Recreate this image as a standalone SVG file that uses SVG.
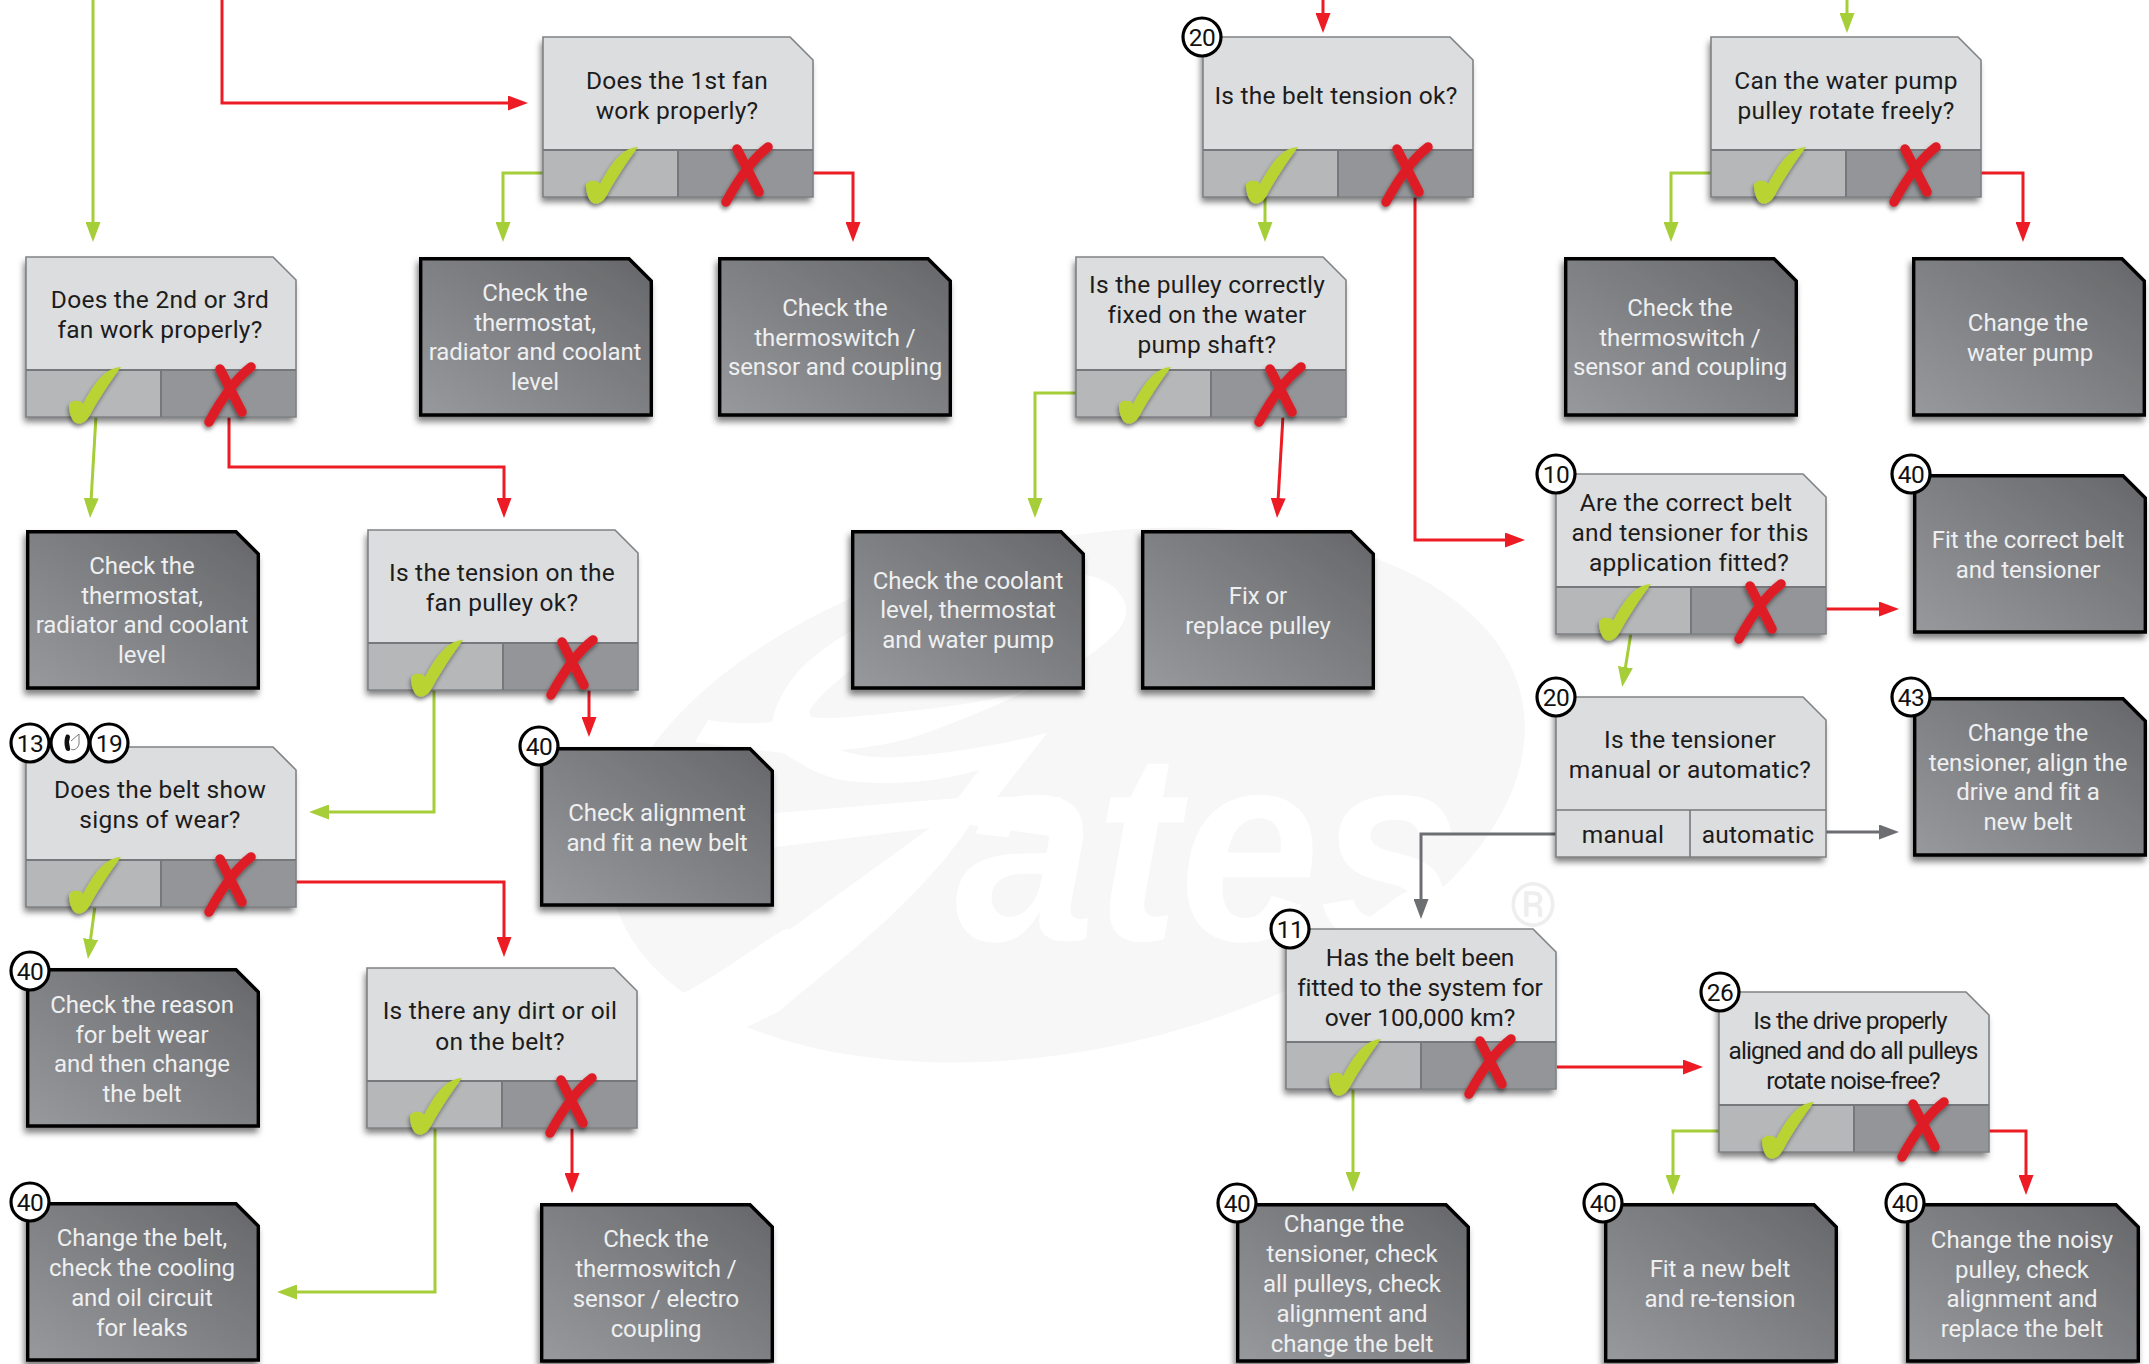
<svg xmlns="http://www.w3.org/2000/svg" width="2149" height="1364" viewBox="0 0 2149 1364">
<style>
text{font-family:"Roboto","Liberation Sans",sans-serif;font-size:24.5px;text-anchor:middle;letter-spacing:.25px}
.k{fill:#1c1c1c}
.w{fill:#eeeff0;font-size:24px;letter-spacing:-.08px}
.b{font-size:24.5px;fill:#111;letter-spacing:-.4px}
.bc{fill:#fff;stroke:#000;stroke-width:3.2}
.c{fill:none;stroke-width:3}
.g{stroke:#a6ce39}
.r{stroke:#ed1c24}
.y{stroke:#6d6e71}
</style>
<defs>
<filter id="sh" x="-10%" y="-10%" width="120%" height="125%"><feDropShadow dx="-2" dy="5" stdDeviation="3" flood-color="#000" flood-opacity=".5"/></filter>
<filter id="sm" x="-30%" y="-30%" width="160%" height="160%"><feDropShadow dx="-1" dy="3" stdDeviation="2" flood-color="#000" flood-opacity=".45"/></filter>
<linearGradient id="dk" x1="0" y1="1" x2="1" y2="0"><stop offset="0" stop-color="#98999c"/><stop offset="1" stop-color="#66676a"/></linearGradient>
<marker id="mg" markerUnits="userSpaceOnUse" markerWidth="20" markerHeight="15" refX="12" refY="7.5" orient="auto"><path d="M0,0L20,7.5L0,15z" fill="#a6ce39"/></marker>
<marker id="mr" markerUnits="userSpaceOnUse" markerWidth="20" markerHeight="15" refX="12" refY="7.5" orient="auto"><path d="M0,0L20,7.5L0,15z" fill="#ed1c24"/></marker>
<marker id="my" markerUnits="userSpaceOnUse" markerWidth="20" markerHeight="15" refX="12" refY="7.5" orient="auto"><path d="M0,0L20,7.5L0,15z" fill="#6d6e71"/></marker>
<path id="shape" d="M0,0H247L270,23V160H0Z"/>
<g id="ck" filter="url(#sm)"><path transform="translate(0,113)" d="M95,-3C82,-2 72,6 57,34C56,31 52,30 47,31L43,34C43,42 45,50 50,53C55,55 60,52 64,45C72,30 84,12 95,-3Z" fill="#b9d433"/></g>
<g id="xx" filter="url(#sm)"><path transform="translate(0,113)" d="M194,-1L216,42M225,-3C208,10 195,30 183,52" fill="none" stroke="#de1f26" stroke-width="9.5" stroke-linecap="round"/></g>
<g id="q">
<use href="#shape" fill="#dcddde" filter="url(#sh)"/>
<rect x="0" y="113" width="135" height="47" fill="#b6b7b9"/>
<rect x="135" y="113" width="135" height="47" fill="#939598"/>
<use href="#shape" fill="none" stroke="#808285" stroke-width="1.6"/>
<path d="M0,113H270M135,113V160" fill="none" stroke="#77787b" stroke-width="2"/>
<use href="#ck"/><use href="#xx"/>
</g>
<g id="qt">
<use href="#shape" fill="#dcddde" filter="url(#sh)"/>
<use href="#shape" fill="none" stroke="#808285" stroke-width="1.6"/>
<path d="M0,113H270M134,113V160" fill="none" stroke="#77787b" stroke-width="1.6"/>
</g>
<g id="a">
<path d="M1.7,1.7H210L232.3,24V158H1.7Z" fill="url(#dk)" stroke="#000" stroke-width="3.4" filter="url(#sh)"/>
</g>
</defs>

<g id="watermark">
<ellipse cx="1067" cy="795" rx="465" ry="255" transform="rotate(-12 1067 795)" fill="#f7f7f7"/>
<path fill="#fff" d="M695,742L708,720C730,724 755,724 772,722C778,695 795,670 819,653C860,620 960,570 1086,575C1115,580 1128,600 1126,613C1124,628 1110,640 1090,655C1060,678 1000,705 926,733C900,742 870,748 840,750C860,757 880,758 900,757C940,755 1000,745 1047,733L997,797L1060,797L1080,840L970,825C920,900 840,960 778,1012L720,1040L680,995C730,970 790,920 789,930L930,828L776,847L700,850L700,810L776,813L958,798L979,770C950,778 920,783 890,783C860,783 840,782 819,773C805,767 795,760 783,753Z"/>
<path fill="#f7f7f7" d="M811,717C808,712 810,708 815,703C830,685 860,660 900,640L1060,600L1085,640L1018,693C980,703 940,708 900,712C870,715 830,720 811,717Z"/>
<path fill="#fff" d="M1352,930L1400,895L1432,880L1480,907L1450,935Z"/>
<text x="955" y="940" textLength="505" lengthAdjust="spacingAndGlyphs" style="font-family:'Liberation Sans',sans-serif;font-style:italic;font-weight:bold;fill:#fff;font-size:270px;text-anchor:start;letter-spacing:0">ates</text>
<text x="1533" y="926" style="font-size:62px;fill:#eeeeee;letter-spacing:0">®</text>
</g>

<g id="connectors">
<path class="c g" marker-end="url(#mg)" d="M93,0V234"/>
<path class="c r" marker-end="url(#mr)" d="M222,0V103H520"/>
<path class="c g" marker-end="url(#mg)" d="M543,173H503V234"/>
<path class="c r" marker-end="url(#mr)" d="M813,173H853V234"/>
<path class="c g" marker-end="url(#mg)" d="M96,416L90.5,510"/>
<path class="c r" marker-end="url(#mr)" d="M229,416V467H504V510"/>
<path class="c g" marker-end="url(#mg)" d="M434,689V812H317"/>
<path class="c r" marker-end="url(#mr)" d="M589,689V729"/>
<path class="c g" marker-end="url(#mg)" d="M95,906L89,951"/>
<path class="c r" marker-end="url(#mr)" d="M296,882H504V949"/>
<path class="c g" marker-end="url(#mg)" d="M435,1127V1292H285"/>
<path class="c r" marker-end="url(#mr)" d="M572,1127V1185"/>
<path class="c r" marker-end="url(#mr)" d="M1323,0V25"/>
<path class="c g" marker-end="url(#mg)" d="M1847,0V25"/>
<path class="c g" marker-end="url(#mg)" d="M1265,197V234"/>
<path class="c r" marker-end="url(#mr)" d="M1415,197V540H1517"/>
<path class="c g" marker-end="url(#mg)" d="M1711,173H1671V234"/>
<path class="c r" marker-end="url(#mr)" d="M1981,173H2023V234"/>
<path class="c g" marker-end="url(#mg)" d="M1076,393H1035V510"/>
<path class="c r" marker-end="url(#mr)" d="M1283,416L1277.500,510"/>
<path class="c g" marker-end="url(#mg)" d="M1631,633L1623.500,679"/>
<path class="c r" marker-end="url(#mr)" d="M1826,609H1891"/>
<path class="c y" marker-end="url(#my)" d="M1826,832H1891"/>
<path class="c y" marker-end="url(#my)" d="M1556,834H1421V911"/>
<path class="c g" marker-end="url(#mg)" d="M1353,1089V1184"/>
<path class="c r" marker-end="url(#mr)" d="M1557,1067H1695"/>
<path class="c g" marker-end="url(#mg)" d="M1719,1131H1673V1187"/>
<path class="c r" marker-end="url(#mr)" d="M1989,1131H2026V1187"/>
</g>

<g id="q1"><use href="#q" x="543" y="37"/><text class="k"><tspan x="677" y="89">Does the 1st fan</tspan><tspan x="677" y="119">work properly?</tspan></text></g>
<g id="q2"><use href="#q" x="26" y="257"/><text class="k"><tspan x="160" y="308">Does the 2nd or 3rd</tspan><tspan x="160" y="338">fan work properly?</tspan></text></g>
<g id="q3"><use href="#q" x="368" y="530"/><text class="k"><tspan x="502" y="581">Is the tension on the</tspan><tspan x="502" y="611">fan pulley ok?</tspan></text></g>
<g id="q4"><use href="#q" x="26" y="747"/><text class="k"><tspan x="160" y="798">Does the belt show</tspan><tspan x="160" y="828">signs of wear?</tspan></text>
<circle class="bc" cx="30" cy="743" r="19"/><text class="b" x="30" y="752">13</text>
<circle class="bc" cx="70" cy="743" r="19"/><path d="M66,735C68,734 70,735 70,737L69,742L70,748C71,751 68,752 66,750C64,746 64,739 66,735Z" fill="#111"/><path d="M71,741L79,734L79,744C78,749 73,751 71,749" fill="none" stroke="#777" stroke-width="1"/>
<circle class="bc" cx="109" cy="743" r="19"/><text class="b" x="109" y="752">19</text></g>
<g id="q5"><use href="#q" x="367" y="968"/><text class="k"><tspan x="500" y="1019">Is there any dirt or oil</tspan><tspan x="500" y="1050">on the belt?</tspan></text></g>
<g id="q6"><use href="#q" x="1203" y="37"/><text class="k" x="1336" y="104">Is the belt tension ok?</text><circle class="bc" cx="1202" cy="37" r="19"/><text class="b" x="1202" y="46">20</text></g>
<g id="q7"><use href="#q" x="1711" y="37"/><text class="k"><tspan x="1846" y="89">Can the water pump</tspan><tspan x="1846" y="119">pulley rotate freely?</tspan></text></g>
<g id="q8"><use href="#q" x="1076" y="257"/><text class="k"><tspan x="1207" y="293">Is the pulley correctly</tspan><tspan x="1207" y="323">fixed on the water</tspan><tspan x="1207" y="353">pump shaft?</tspan></text></g>
<g id="q9"><use href="#q" x="1556" y="474"/><text class="k"><tspan x="1686" y="511">Are the correct belt</tspan><tspan x="1690" y="541">and tensioner for this</tspan><tspan x="1689" y="571">application fitted?</tspan></text><circle class="bc" cx="1556" cy="474" r="19"/><text class="b" x="1556" y="483">10</text></g>
<g id="q10"><use href="#qt" x="1556" y="697"/><text class="k"><tspan x="1690" y="748">Is the tensioner</tspan><tspan x="1690" y="778">manual or automatic?</tspan></text><text class="k" x="1623" y="843">manual</text><text class="k" x="1758" y="843">automatic</text><circle class="bc" cx="1556" cy="697" r="19"/><text class="b" x="1556" y="706">20</text></g>
<g id="q11"><use href="#q" x="1286" y="929"/><text class="k" style="letter-spacing:-.1px"><tspan x="1420" y="966">Has the belt been</tspan><tspan x="1420" y="996">fitted to the system for</tspan><tspan x="1420" y="1026">over 100,000 km?</tspan></text><circle class="bc" cx="1290" cy="929" r="19"/><text class="b" x="1290" y="938">11</text></g>
<g id="q12"><use href="#q" x="1719" y="992"/><text class="k" style="letter-spacing:-.95px"><tspan x="1850" y="1029">Is the drive properly</tspan><tspan x="1853" y="1059">aligned and do all pulleys</tspan><tspan x="1853" y="1089">rotate noise-free?</tspan></text><circle class="bc" cx="1720" cy="992" r="19"/><text class="b" x="1720" y="1001">26</text></g>

<g id="a1"><use href="#a" x="419" y="257"/><text class="w"><tspan x="535" y="301">Check the</tspan><tspan x="535" y="331">thermostat,</tspan><tspan x="535" y="360">radiator and coolant</tspan><tspan x="535" y="390">level</tspan></text></g>
<g id="a2"><use href="#a" x="718" y="257"/><text class="w"><tspan x="835" y="316">Check the</tspan><tspan x="835" y="346">thermoswitch /</tspan><tspan x="835" y="375">sensor and coupling</tspan></text></g>
<g id="a3"><use href="#a" x="26" y="530"/><text class="w"><tspan x="142" y="574">Check the</tspan><tspan x="142" y="604">thermostat,</tspan><tspan x="142" y="633">radiator and coolant</tspan><tspan x="142" y="663">level</tspan></text></g>
<g id="a4"><use href="#a" x="540" y="747"/><text class="w"><tspan x="657" y="821">Check alignment</tspan><tspan x="657" y="851">and fit a new belt</tspan></text><circle class="bc" cx="539" cy="746" r="19"/><text class="b" x="539" y="755">40</text></g>
<g id="a5"><use href="#a" x="26" y="968"/><text class="w"><tspan x="142" y="1013">Check the reason</tspan><tspan x="142" y="1043">for belt wear</tspan><tspan x="142" y="1072">and then change</tspan><tspan x="142" y="1102">the belt</tspan></text><circle class="bc" cx="30" cy="971" r="19"/><text class="b" x="30" y="980">40</text></g>
<g id="a6"><use href="#a" x="26" y="1202"/><text class="w"><tspan x="142" y="1246">Change the belt,</tspan><tspan x="142" y="1276">check the cooling</tspan><tspan x="142" y="1306">and oil circuit</tspan><tspan x="142" y="1336">for leaks</tspan></text><circle class="bc" cx="30" cy="1202" r="19"/><text class="b" x="30" y="1211">40</text></g>
<g id="a7"><use href="#a" x="540" y="1203"/><text class="w"><tspan x="656" y="1247">Check the</tspan><tspan x="656" y="1277">thermoswitch /</tspan><tspan x="656" y="1307">sensor / electro</tspan><tspan x="656" y="1337">coupling</tspan></text></g>
<g id="a8"><use href="#a" x="851" y="530"/><text class="w"><tspan x="968" y="589">Check the coolant</tspan><tspan x="968" y="618">level, thermostat</tspan><tspan x="968" y="648">and water pump</tspan></text></g>
<g id="a9"><use href="#a" x="1141" y="530"/><text class="w"><tspan x="1258" y="604">Fix or</tspan><tspan x="1258" y="634">replace pulley</tspan></text></g>
<g id="a10"><use href="#a" x="1564" y="257"/><text class="w"><tspan x="1680" y="316">Check the</tspan><tspan x="1680" y="346">thermoswitch /</tspan><tspan x="1680" y="375">sensor and coupling</tspan></text></g>
<g id="a11"><use href="#a" x="1912" y="257"/><text class="w"><tspan x="2028" y="331">Change the</tspan><tspan x="2030" y="361">water pump</tspan></text></g>
<g id="a12"><use href="#a" x="1913" y="474"/><text class="w"><tspan x="2028" y="548">Fit the correct belt</tspan><tspan x="2028" y="578">and tensioner</tspan></text><circle class="bc" cx="1911" cy="474" r="19"/><text class="b" x="1911" y="483">40</text></g>
<g id="a13"><use href="#a" x="1913" y="697"/><text class="w"><tspan x="2028" y="741">Change the</tspan><tspan x="2028" y="771">tensioner, align the</tspan><tspan x="2028" y="800">drive and fit a</tspan><tspan x="2028" y="830">new belt</tspan></text><circle class="bc" cx="1911" cy="697" r="19"/><text class="b" x="1911" y="706">43</text></g>
<g id="a14"><use href="#a" x="1236" y="1203"/><text class="w"><tspan x="1344" y="1232">Change the</tspan><tspan x="1352" y="1262">tensioner, check</tspan><tspan x="1352" y="1292">all pulleys, check</tspan><tspan x="1352" y="1322">alignment and</tspan><tspan x="1352" y="1352">change the belt</tspan></text><circle class="bc" cx="1237" cy="1203" r="19"/><text class="b" x="1237" y="1212">40</text></g>
<g id="a15"><use href="#a" x="1604" y="1203"/><text class="w"><tspan x="1720" y="1277">Fit a new belt</tspan><tspan x="1720" y="1307">and re-tension</tspan></text><circle class="bc" cx="1603" cy="1203" r="19"/><text class="b" x="1603" y="1212">40</text></g>
<g id="a16"><use href="#a" x="1906" y="1203"/><text class="w"><tspan x="2022" y="1248">Change the noisy</tspan><tspan x="2022" y="1278">pulley, check</tspan><tspan x="2022" y="1307">alignment and</tspan><tspan x="2022" y="1337">replace the belt</tspan></text><circle class="bc" cx="1905" cy="1203" r="19"/><text class="b" x="1905" y="1212">40</text></g>
</svg>
